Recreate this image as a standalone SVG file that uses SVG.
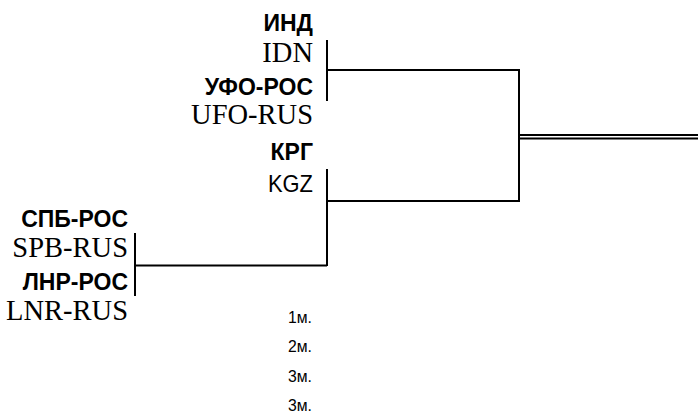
<svg xmlns="http://www.w3.org/2000/svg" width="698" height="415" viewBox="0 0 698 415">
<style>
.ru{font-family:"Liberation Sans",Arial,sans-serif;font-weight:bold;font-size:23px;fill:#000;text-anchor:end}
.en{font-family:"Liberation Serif","Times New Roman",serif;font-size:28.5px;fill:#000;text-anchor:end}
.kg{font-family:"Liberation Sans",Arial,sans-serif;font-size:24px;fill:#000;text-anchor:end}
.pl{font-family:"Liberation Sans",Arial,sans-serif;font-size:17px;fill:#000;text-anchor:end}
.ln{stroke:#000;stroke-width:2;fill:none}
.dl{stroke:#000;stroke-width:1.8;fill:none}
</style>
<rect width="698" height="415" fill="#fff"/>
<g id="team-idn">
<text class="ru" x="313" y="31">ИНД</text>
<text class="en" x="313" y="62">IDN</text>
</g>
<g id="team-ufo-rus">
<text class="ru" x="313" y="95">УФО-РОС</text>
<text class="en" x="313" y="124">UFO-RUS</text>
</g>
<g id="team-kgz">
<text class="ru" x="313" y="160">КРГ</text>
<text class="kg" x="313" y="192" textLength="45" lengthAdjust="spacingAndGlyphs">KGZ</text>
</g>
<g id="team-spb-rus">
<text class="ru" x="128" y="227">СПБ-РОС</text>
<text class="en" x="128" y="257">SPB-RUS</text>
</g>
<g id="team-lnr-rus">
<text class="ru" x="128" y="290">ЛНР-РОС</text>
<text class="en" x="128" y="320">LNR-RUS</text>
</g>
<g id="connectors">
<path class="ln" d="M327 40 V101 M327 70 H519"/>
<path class="ln" d="M327 169 V266 M327 201 H519"/>
<path class="ln" d="M519 69 V202"/>
<path class="ln" d="M135 233 V296 M135 265.5 H327"/>
<path class="dl" d="M520 135 H698 M520 138.5 H698"/>
</g>
<g id="places">
<text class="pl" x="312" y="323" textLength="24" lengthAdjust="spacingAndGlyphs">1м.</text>
<text class="pl" x="312" y="352" textLength="24" lengthAdjust="spacingAndGlyphs">2м.</text>
<text class="pl" x="312" y="382" textLength="24" lengthAdjust="spacingAndGlyphs">3м.</text>
<text class="pl" x="312" y="411" textLength="24" lengthAdjust="spacingAndGlyphs">3м.</text>
</g>
</svg>
